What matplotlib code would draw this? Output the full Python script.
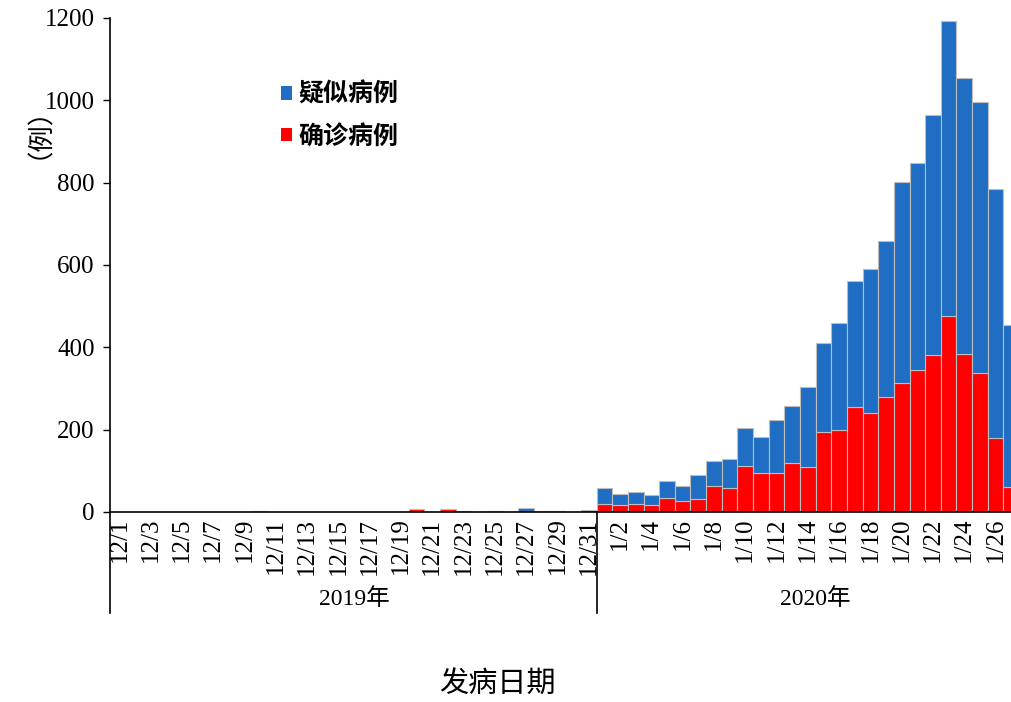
import matplotlib
matplotlib.use("Agg")
import matplotlib.pyplot as plt
from matplotlib.patches import Patch
import numpy as np

# onset dates 12/1/2019 .. 1/27/2020
dec_days = [f"12/{d}" for d in range(1, 32)]
jan_days = [f"1/{d}" for d in range(1, 28)]
dates = dec_days + jan_days

# total cases (suspected + confirmed)
dec_total = [0, 0, 0, 0, 0, 0, 0, 0, 0, 2, 0, 0, 0, 0, 1, 0, 1, 0, 0, 8,
             0, 8, 2, 0, 2, 0, 9, 3, 3, 0, 4]
jan_total = [58, 44, 49, 41, 75, 63, 90, 123, 129, 205, 181, 223, 258, 304,
             411, 460, 562, 590, 659, 802, 847, 964, 1193, 1053, 997, 784, 454]

# confirmed cases
dec_confirmed = [0, 0, 0, 0, 0, 0, 0, 0, 0, 1, 0, 0, 0, 0, 1, 0, 1, 0, 0, 7,
                 0, 7, 1, 0, 1, 0, 1, 1, 1, 0, 1]
jan_confirmed = [20, 16, 19, 18, 34, 26, 31, 62, 58, 112, 95, 94, 120, 110,
                 195, 199, 256, 241, 280, 314, 345, 381, 477, 383, 338, 180, 60]

confirmed = np.array(dec_confirmed + jan_confirmed)
suspected = np.array(dec_total + jan_total) - confirmed

blue = "#1F6EC4"
red = "#FF0000"
edge = "#BDBDBD"

serif = ["Liberation Serif", "Noto Sans CJK SC"]
cjk = ["Noto Sans CJK SC", "DejaVu Sans"]

fig = plt.figure(figsize=(10.12, 7.02), dpi=100)
ax = fig.add_axes([0.1087, 0.2707, 0.8913, 0.7037])

x = np.arange(len(dates))
ax.bar(x, confirmed, width=1.0, color=red, edgecolor=edge, linewidth=0.8)
ax.bar(x, suspected, width=1.0, bottom=confirmed, color=blue,
       edgecolor=edge, linewidth=0.8)

ax.set_xlim(-0.6, 57.05)
ax.set_ylim(0, 1200)
ax.set_yticks(range(0, 1201, 200))
ax.tick_params(axis="y", direction="out", length=5, width=1, labelsize=18, pad=6)
for t in ax.get_yticklabels():
    t.set_family(serif)

ax.set_xticks(x[::2])
ax.set_xticklabels(dates[::2], rotation=90, fontsize=18, family=serif)
ax.tick_params(axis="x", length=0, pad=4)

for s in ["top", "right"]:
    ax.spines[s].set_visible(False)
ax.spines["left"].set_linewidth(1.2)
ax.spines["bottom"].set_linewidth(1.2)

# year group separators below the axis
tr = ax.get_xaxis_transform()
for xv in [-0.6, 30.5]:
    ax.plot([xv, xv], [0, -0.205], transform=tr, color="black", lw=1.2,
            clip_on=False)
ax.text(15.0, -0.177, "2019年", transform=tr, ha="center", va="center",
        fontsize=17, family=serif)
ax.text(44.5, -0.177, "2020年", transform=tr, ha="center", va="center",
        fontsize=17, family=serif)

fig.text(0.491, 0.024, "发病日期", ha="center", va="center", fontsize=21,
         family=cjk)
fig.text(0.025, 0.83, "（例）", ha="center", va="center", rotation=90,
         fontsize=19, family=cjk)

handles = [Patch(facecolor=blue, edgecolor="none"),
           Patch(facecolor=red, edgecolor="none")]
leg = fig.legend(handles, ["疑似病例", "确诊病例"], loc="upper left",
                 bbox_to_anchor=(0.265, 0.9), frameon=False,
                 handlelength=0.45, handleheight=0.45, handletextpad=0.25,
                 labelspacing=0.7, borderpad=0,
                 prop={"family": cjk, "size": 18, "weight": "bold"})

fig.savefig("out.png", dpi=100)
